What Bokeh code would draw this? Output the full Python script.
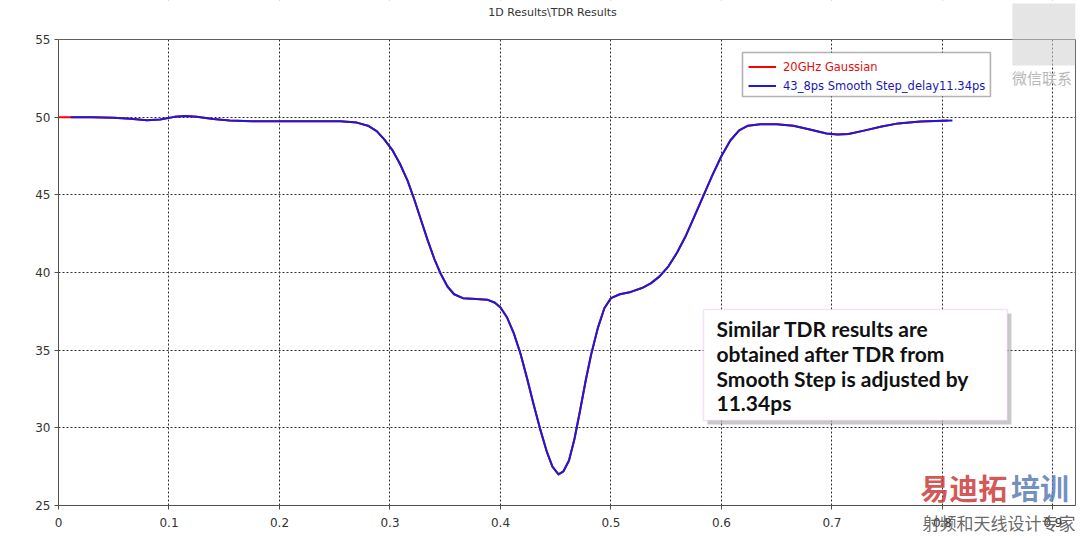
from bokeh.plotting import figure
from bokeh.models import (Range1d, Legend, LegendItem, BoxAnnotation, Label, Span,
                          LinearAxis, NumeralTickFormatter, FixedTicker)
from bokeh.embed import file_html
from bokeh.resources import INLINE

# ---------------- data (time in ns, impedance in Ohm) ----------------
red_t = [0.000, 0.030, 0.050, 0.065, 0.080, 0.092, 0.105, 0.115, 0.125, 0.140,
         0.155, 0.175, 0.200, 0.230, 0.255, 0.270, 0.280, 0.288, 0.295, 0.302,
         0.309, 0.316, 0.322, 0.328, 0.334, 0.340, 0.346, 0.352, 0.358, 0.366,
         0.378, 0.388, 0.395, 0.400, 0.406, 0.412, 0.418, 0.424, 0.430, 0.436,
         0.442, 0.447, 0.4525, 0.457, 0.462, 0.467, 0.472, 0.477, 0.482, 0.488,
         0.494, 0.500, 0.508, 0.518, 0.528, 0.536, 0.544, 0.552, 0.560, 0.568,
         0.576, 0.584, 0.592, 0.600, 0.608, 0.616, 0.624, 0.635, 0.650, 0.665,
         0.680, 0.695, 0.705, 0.715, 0.730, 0.745, 0.760, 0.780, 0.805]

blue_t = [0.011, 0.030, 0.050, 0.065, 0.080, 0.092, 0.105, 0.115, 0.125, 0.140,
          0.155, 0.175, 0.200, 0.230, 0.255, 0.270, 0.280, 0.288, 0.295, 0.302,
          0.309, 0.316, 0.322, 0.328, 0.334, 0.340, 0.346, 0.352, 0.358, 0.366,
          0.378, 0.388, 0.395, 0.400, 0.406, 0.412, 0.418, 0.424, 0.430, 0.436,
          0.442, 0.447, 0.4525, 0.457, 0.462, 0.467, 0.472, 0.477, 0.482, 0.488,
          0.494, 0.500, 0.508, 0.518, 0.528, 0.536, 0.544, 0.552, 0.560, 0.568,
          0.576, 0.584, 0.592, 0.600, 0.608, 0.616, 0.624, 0.635, 0.650, 0.665,
          0.680, 0.695, 0.705, 0.715, 0.730, 0.745, 0.760, 0.780, 0.809]

impedance = [50.00, 50.00, 49.97, 49.90, 49.80, 49.85, 50.02, 50.08, 50.03, 49.88,
             49.78, 49.74, 49.73, 49.74, 49.73, 49.65, 49.45, 49.10, 48.55, 47.90,
             47.00, 45.90, 44.70, 43.40, 42.10, 40.90, 39.90, 39.10, 38.60, 38.35,
             38.30, 38.25, 38.05, 37.75, 37.10, 36.10, 34.80, 33.20, 31.50, 29.90,
             28.45, 27.50, 27.00, 27.20, 27.90, 29.30, 31.10, 33.00, 34.70, 36.40,
             37.70, 38.35, 38.60, 38.75, 39.00, 39.30, 39.75, 40.40, 41.30, 42.40,
             43.70, 45.00, 46.30, 47.50, 48.50, 49.15, 49.45, 49.55, 49.55, 49.45,
             49.20, 48.95, 48.88, 48.92, 49.15, 49.40, 49.60, 49.72, 49.78]

title_text = "1D Results\\TDR Results"
series_names = ["20GHz Gaussian", "43_8ps Smooth Step_delay11.34ps"]
x_ticks = [0, 0.1, 0.2, 0.3, 0.4, 0.5, 0.6, 0.7, 0.8, 0.9]
y_ticks = [25, 30, 35, 40, 45, 50, 55]
note_lines = ["Similar TDR results are", "obtained after TDR from",
              "Smooth Step is adjusted by", "11.34ps"]
watermark_sub = "射频和天线设计专家"

TICK_FONT = "DejaVu Sans"
Y_MIN, Y_MAX = 25, 55
# the frame reaches the top of the canvas so the title can sit inside it;
# the visible plot box is bounded at Y_MAX by axis bounds and a span
Y_TOP = 57.511

p = figure(width=1080, height=538, output_backend="svg", toolbar_location=None,
           x_range=Range1d(0, 0.9204), y_range=Range1d(Y_MIN, Y_TOP),
           min_border_left=58, min_border_right=5, min_border_top=0,
           min_border_bottom=33, background_fill_color="white",
           border_fill_color="white")
p.outline_line_color = None

p.xaxis.ticker = FixedTicker(ticks=x_ticks, minor_ticks=[])
p.yaxis.ticker = FixedTicker(ticks=y_ticks, minor_ticks=[])
p.yaxis.bounds = (Y_MIN, Y_MAX)
p.xaxis.formatter = NumeralTickFormatter(format="0.[0]")
for ax in (p.xaxis, p.yaxis):
    ax.major_tick_out = 4
    ax.major_tick_in = 0
    ax.minor_tick_out = 0
    ax.minor_tick_in = 0
    ax.axis_line_color = "#505050"
    ax.major_tick_line_color = "#505050"
    ax.major_label_text_font = TICK_FONT
    ax.major_label_text_font_size = "12px"
    ax.major_label_text_color = "#333333"
p.yaxis.major_label_standoff = 4
p.xaxis.major_label_standoff = 8

# watermark line under the axis: drawn as the axis label, centred on the axis
# end and padded with ideographic spaces so its visible part ends at the edge
p.xaxis.axis_label = watermark_sub + "\u3000" * len(watermark_sub)
p.xaxis.axis_label_text_font = "Noto Sans CJK SC"
p.xaxis.axis_label_text_font_size = "17px"
p.xaxis.axis_label_text_font_style = "normal"
p.xaxis.axis_label_text_color = "#555555"
p.xaxis.axis_label_text_alpha = 0.9
p.xaxis.axis_label_align = "end"
p.xaxis.axis_label_standoff = -20

right_axis = LinearAxis(ticker=FixedTicker(ticks=[], minor_ticks=[]), bounds=(Y_MIN, Y_MAX),
                        axis_line_color="#606060", major_tick_out=0, major_tick_in=0,
                        minor_tick_out=0, minor_tick_in=0, major_label_standoff=0,
                        axis_label_standoff=0)
p.add_layout(right_axis, "right")

p.grid.grid_line_color = "#303030"
p.grid.grid_line_dash = "2 2"
p.grid.grid_line_width = 1

r_red = p.line(red_t, impedance, line_color="#ff0000", line_width=2, line_join="round")
r_blue = p.line(blue_t, impedance, line_color="#1a1ad8", line_width=2, line_join="round")

# blank the area above the plot box, then draw its top edge
p.add_layout(BoxAnnotation(bottom=Y_MAX, fill_color="white", fill_alpha=1.0, line_alpha=0))
p.add_layout(Span(location=Y_MAX, dimension="width", line_color="#606060", line_width=1))

p.add_layout(Label(x=0.389, y=56.74, text=title_text, text_font=TICK_FONT,
                   text_font_size="11px", text_color="#333333",
                   text_baseline="middle"))

# QR-code-like watermark patch
p.add_layout(BoxAnnotation(left=0.8633, right=0.9204, top=57.32, bottom=53.33,
                           fill_color="#cfcfcf", fill_alpha=0.55, line_alpha=0,
                           hatch_pattern="checker", hatch_color="#a8a8a8",
                           hatch_alpha=0.7, hatch_scale=5))

# legend frame
p.add_layout(BoxAnnotation(left=0.619, right=0.8434, top=54.163, bottom=51.33,
                           fill_color="white", fill_alpha=1.0,
                           line_color="black", line_width=1.6))
leg_colors = ["#e01010", "#1a1ab0"]
for name, r, col, ypos in zip(series_names, [r_red, r_blue], leg_colors, [429, 410]):
    lg = Legend(items=[LegendItem(label=name, renderers=[r])], location=(690, ypos),
                border_line_alpha=0, background_fill_alpha=0, padding=0, margin=0,
                spacing=0, glyph_width=28, glyph_height=19, label_height=19,
                label_standoff=7, label_text_font=TICK_FONT,
                label_text_font_size="11.5px", label_text_color=col)
    p.add_layout(lg)

# note box with shadow
p.add_layout(BoxAnnotation(left=0.5873, right=0.8624, top=37.36, bottom=30.21,
                           fill_color="#888888", fill_alpha=0.45, line_alpha=0))
p.add_layout(BoxAnnotation(left=0.5837, right=0.8588, top=37.618, bottom=30.472,
                           fill_color="white", fill_alpha=1.0,
                           line_color="#d8a0d8", line_width=1.5))
for txt, yv in zip(note_lines, [36.395, 34.785, 33.175, 31.63]):
    p.add_layout(Label(x=0.5955, y=yv, text=txt, text_font="Lato",
                       text_font_style="bold", text_font_size="21px",
                       text_color="#111111", text_baseline="middle"))

# watermark texts
p.add_layout(Label(x=0.780, y=24.85, text="易迪拓", text_font="Noto Sans CJK SC",
                   text_font_style="bold", text_font_size="29px",
                   text_color="#cc3b3b", text_alpha=0.85, text_baseline="bottom"))
p.add_layout(Label(x=0.862, y=24.85, text="培训", text_font="Noto Sans CJK SC",
                   text_font_style="bold", text_font_size="29px",
                   text_color="#5a7db5", text_alpha=0.85, text_baseline="bottom"))
p.add_layout(Label(x=0.863, y=52.55, text="微信联系", text_font="Noto Sans CJK SC",
                   text_font_size="15px", text_color="#b8b8b8",
                   text_baseline="middle"))

open("out.html", "w").write(file_html(p, INLINE))
